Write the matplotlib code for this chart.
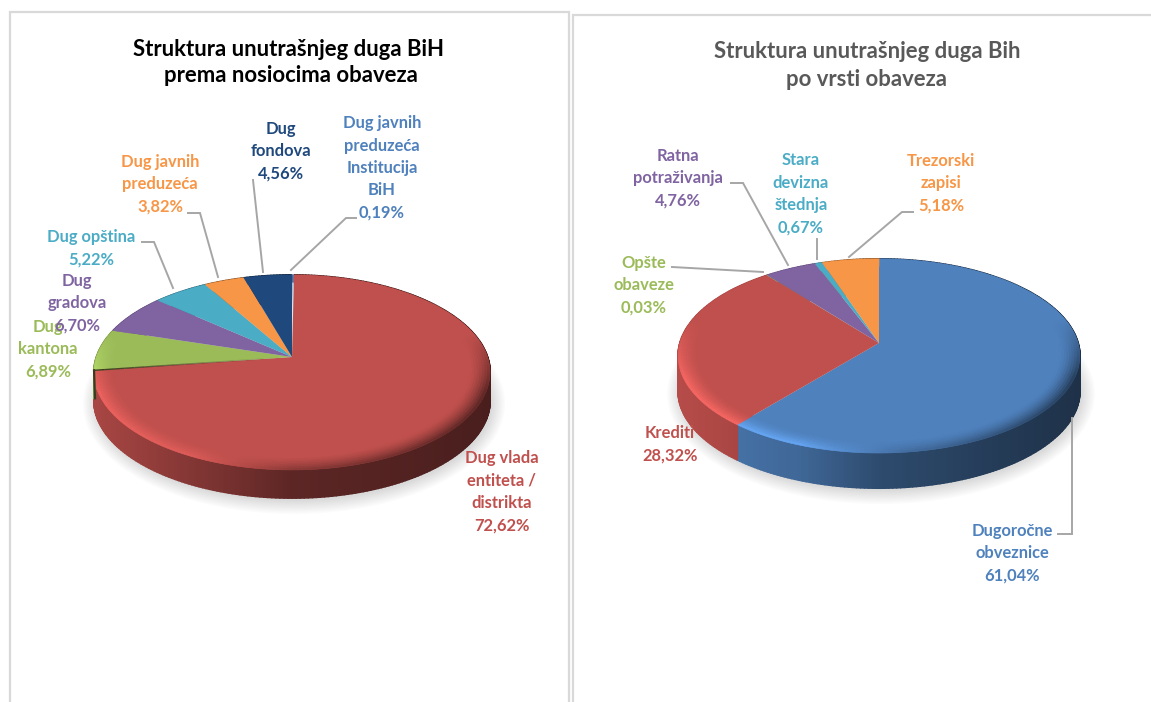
import numpy as np
import matplotlib
matplotlib.use('Agg')
import matplotlib.pyplot as plt
import matplotlib.transforms as mtransforms
from matplotlib.path import Path
from matplotlib.patches import Ellipse
from matplotlib.collections import PolyCollection

# left chart
left_values = [0.19, 72.62, 6.89, 6.70, 5.22, 3.82, 4.56]
left_colors = ['#4f81bd', '#c0504d', '#9bbb59', '#8064a2', '#4bacc6', '#f79646', '#1f497d']
left_labels = ['Dug javnih\npreduzeća\nInstitucija\nBiH\n0,19%', 'Dug vlada\nentiteta /\ndistrikta\n72,62%',
			   'Dug\nkantona\n6,89%', 'Dug\ngradova\n6,70%', 'Dug opština\n5,22%',
			   'Dug javnih\npreduzeća\n3,82%', 'Dug\nfondova\n4,56%']
left_label_pos = [(382, 168), (502, 492), (48, 349), (77, 303), (91, 248), (160, 184), (281, 151)]
left_leaders = [[(291, 270), (346, 218), (356, 218)], [(263, 272), (253, 180)],
				[(218, 277), (200, 213), (188, 213)], [(173, 288), (154, 242), (142, 242)]]

# right chart
right_values = [61.04, 28.32, 0.03, 4.76, 0.67, 5.18]
right_colors = ['#4f81bd', '#c0504d', '#9bbb59', '#8064a2', '#4bacc6', '#f79646']
right_labels = ['Dugoročne\nobveznice\n61,04%', 'Krediti\n28,32%', 'Opšte\nobaveze\n0,03%',
				'Ratna\npotraživanja\n4,76%', 'Stara\ndevizna\nštednja\n0,67%', 'Trezorski\nzapisi\n5,18%']
right_label_pos = [(1012, 553), (670, 444), (644, 285), (678, 178), (801, 194), (941, 183)]
right_leaders = [[(1072, 418), (1072, 534), (1058, 534)], [(763, 272), (672, 267)],
				 [(788, 265), (743, 183), (731, 183)], [(817, 259), (817, 239)],
				 [(849, 257), (902, 212), (913, 212)]]

W, H = 1151, 702
FONT = 'Lato'
LEADER = '#a6a6a6'


class TiltTransform(mtransforms.Transform):
	'''
	Perspective of a unit disc lying on a table, seen from above, into pixel coordinates
	'''
	input_dims = 2
	output_dims = 2
	is_separable = False
	has_inverse = False

	def __init__(self, cx, cy, a, b, k):
		super().__init__()
		self.cx, self.cy, self.a, self.b, self.k = cx, cy, a, b, k

	def transform_non_affine(self, values):
		values = np.asarray(values, dtype=float)
		w = 1 + self.k * values[:, 1]
		return np.column_stack((self.cx + self.a * values[:, 0] / w, self.cy - self.b * values[:, 1] / w))

	def transform_path_non_affine(self, path):
		# flatten the curves first, in a big scale so the arcs stay round
		poly = path.to_polygons(mtransforms.Affine2D().scale(600), closed_only=True)[0] / 600
		return Path(self.transform_non_affine(poly))


def shade(color, m):
	rgb = np.array(matplotlib.colors.to_rgb(color))
	return tuple(np.clip(rgb * m, 0, 1))


def draw_pie(ax, values, colors, tilt, depth, wall_x, wall_m, edge_x, edge_m):
	'''
	One pie with the wall and the soft rim added from the angles of the pie wedges
	'''
	wedges, _ = ax.pie(values, colors=colors, startangle=90, counterclock=False, radius=1, center=(0, 0))
	ax.set_aspect('auto')
	ax.set_xlim(0, W)
	ax.set_ylim(H, 0)
	ax.axis('off')

	rx = tilt.a / np.sqrt(1 - tilt.k ** 2)
	left = tilt.cx - rx

	# soft shadow under the pie
	ell_y = tilt.cy + tilt.b * tilt.k / (1 - tilt.k ** 2)
	ry = tilt.b / (1 - tilt.k ** 2)
	for grow in np.linspace(0, 13, 12):
		ax.add_patch(Ellipse((tilt.cx + 2, ell_y + depth + 3), 2 * rx + 2 * grow, 2 * ry + 2 * grow, color='#7f7f7f',
							 alpha=0.025, lw=0, zorder=0.5))

	wall_polys, wall_cols, rim_polys, rim_cols = [], [], [], []
	radii = np.linspace(0.9, 1.0, 9)
	for wedge, color in zip(wedges, colors):
		wedge.set_transform(tilt + ax.transData)
		wedge.set_zorder(2)
		wedge.set_linewidth(0)
		n = max(2, int(abs(wedge.theta2 - wedge.theta1)) + 1)
		t = np.radians(np.linspace(wedge.theta1, wedge.theta2, n))
		unit = np.column_stack((np.cos(t), np.sin(t)))
		rim = tilt.transform_non_affine(unit)
		for i in range(n - 1):
			f = (rim[i, 0] - left) / (2 * rx)
			v = unit[i, 1]
			wall_polys.append([rim[i], rim[i + 1], rim[i + 1] + (0, depth), rim[i] + (0, depth)])
			wall_cols.append(shade(color, np.interp(f, wall_x, wall_m)))
			strength = np.clip((0.25 - v) / 0.6, 0, 1)
			end_m = np.interp(f, edge_x, edge_m)
			for j in range(len(radii) - 1):
				inner = tilt.transform_non_affine(unit[i:i + 2] * radii[j])
				outer = tilt.transform_non_affine(unit[i:i + 2] * radii[j + 1])
				p = (j + 0.5) / (len(radii) - 1)
				rim_polys.append([inner[0], inner[1], outer[1], outer[0]])
				rim_cols.append(shade(color, 1 + (end_m - 1) * strength * p ** 1.5))
	ax.add_collection(PolyCollection(wall_polys, facecolors=wall_cols, edgecolors=wall_cols, linewidths=1.4, zorder=1,
									 joinstyle='round'))
	ax.add_collection(PolyCollection(rim_polys, facecolors=rim_cols, edgecolors=rim_cols, linewidths=0.4, zorder=3))
	return wedges


def add_labels(ax, labels, positions, colors):
	for label, pos, color in zip(labels, positions, colors):
		ax.text(pos[0], pos[1], label, color=color, ha='center', va='center', fontsize=11.9, fontweight='bold',
				family=FONT, linespacing=1.49, zorder=6)


def add_leaders(ax, leaders):
	for points in leaders:
		xs, ys = zip(*points)
		ax.plot(xs, ys, color=LEADER, lw=1.4, zorder=5, solid_joinstyle='miter')


fig = plt.figure(figsize=(W / 100, H / 100), dpi=100)
ax = fig.add_axes([0, 0, 1, 1])

left_tilt = TiltTransform(292, 357, 195.5, 95, 0.159)
right_tilt = TiltTransform(879, 343, 199, 95.3, 0.134)

left_wedges = draw_pie(ax, left_values, left_colors, left_tilt, 28,
					   [0, 0.5, 1], [0.88, 0.48, 0.38], [0, 0.25, 0.5, 1], [1.25, 1.15, 0.7, 0.45])
right_wedges = draw_pie(ax, right_values, right_colors, right_tilt, 35,
						[0, 0.3, 0.5, 1], [0.95, 0.8, 0.58, 0.38], [0, 0.3, 0.55, 1], [1.3, 1.3, 0.85, 0.45])

# the very thin first slice has a pale border
left_wedges[0].set_edgecolor('#dce6f1')
left_wedges[0].set_linewidth(0.9)

# dark seam where the red slice meets the green one, fading towards the middle
seam_t = np.radians(left_wedges[1].theta1)
seam = left_tilt.transform_non_affine(np.outer(np.linspace(0.1, 1, 19), (np.cos(seam_t), np.sin(seam_t))))
for i in range(len(seam) - 1):
	ax.plot(seam[i:i + 2, 0], seam[i:i + 2, 1], color='#3b3a1e', lw=1.0, alpha=(i + 1) / (len(seam) - 1), zorder=4,
			solid_capstyle='butt')
ax.plot([seam[-1, 0], seam[-1, 0] + 1], [seam[-1, 1], seam[-1, 1] + 28], color='#3b3a1e', lw=1.6, zorder=4)

add_leaders(ax, left_leaders)
add_leaders(ax, right_leaders)
add_labels(ax, left_labels, left_label_pos, left_colors)
add_labels(ax, right_labels, right_label_pos, right_colors)

# titles
ax.text(289, 50, 'Struktura unutrašnjeg duga BiH', color='black', ha='center', va='center', fontsize=15.9,
		fontweight='bold', family=FONT)
ax.text(291, 76, 'prema nosiocima obaveza', color='black', ha='center', va='center', fontsize=15.9,
		fontweight='bold', family=FONT)
ax.text(867, 52, 'Struktura unutrašnjeg duga Bih', color='#595959', ha='center', va='center', fontsize=15.9,
		fontweight='bold', family=FONT)
ax.text(867, 80, 'po vrsti obaveza', color='#595959', ha='center', va='center', fontsize=15.9,
		fontweight='bold', family=FONT)

# the two chart frames, open at the bottom
ax.plot([10, 10, 569, 569], [H, 12, 12, H], color='#d9d9d9', lw=1.6, zorder=1, solid_joinstyle='miter')
ax.plot([573, 573, W], [H, 15, 15], color='#d9d9d9', lw=1.6, zorder=1, solid_joinstyle='miter')

fig.savefig('out.png', dpi=100)
